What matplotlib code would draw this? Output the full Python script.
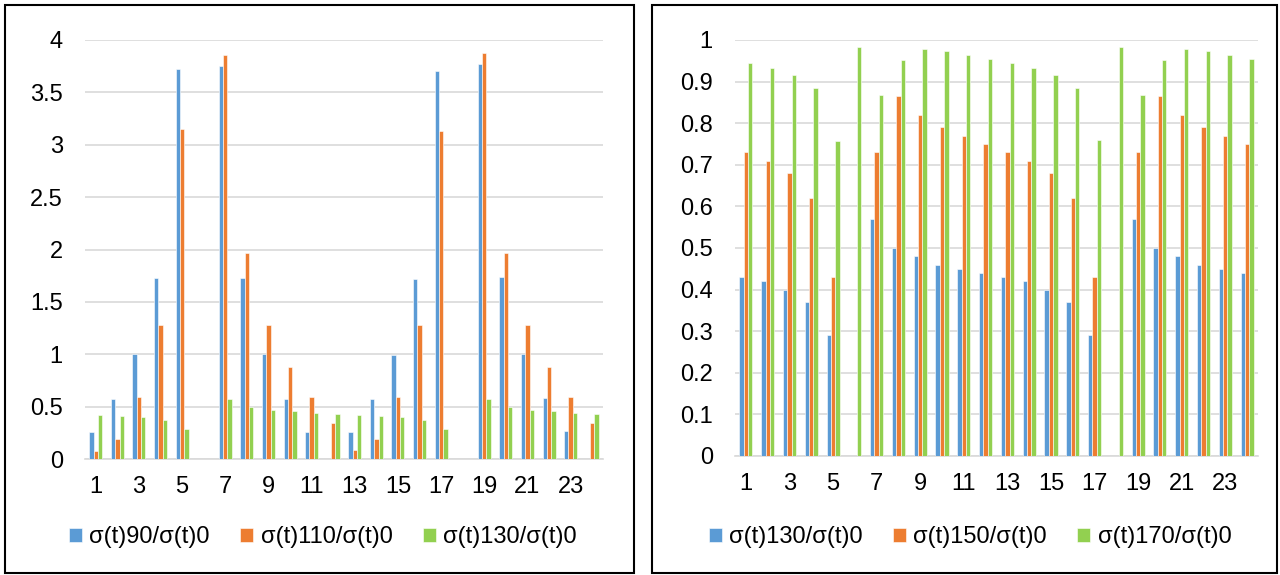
import numpy as np
import matplotlib
matplotlib.use('Agg')
import matplotlib.pyplot as plt
from matplotlib.patches import Rectangle

plt.rcParams['font.family'] = ['Liberation Sans', 'DejaVu Sans']

categories = list(range(1, 25))
tick_labels = [str(i) for i in range(1, 24, 2)]

# левая диаграмма
left_names = ['σ(t)90/σ(t)0', 'σ(t)110/σ(t)0', 'σ(t)130/σ(t)0']
left_90 = [0.26, 0.57, 1.00, 1.73, 3.72, 0, 3.75, 1.73, 1.00, 0.57, 0.26, 0,
           0.26, 0.57, 0.99, 1.72, 3.70, 0, 3.77, 1.74, 1.00, 0.58, 0.27, 0]
left_110 = [0.08, 0.19, 0.59, 1.28, 3.15, 0, 3.86, 1.97, 1.28, 0.88, 0.59, 0.34,
            0.09, 0.19, 0.59, 1.28, 3.13, 0, 3.88, 1.97, 1.28, 0.88, 0.59, 0.34]
left_130 = [0.42, 0.41, 0.40, 0.37, 0.29, 0, 0.57, 0.50, 0.47, 0.46, 0.44, 0.43,
            0.42, 0.41, 0.40, 0.37, 0.29, 0, 0.57, 0.50, 0.47, 0.46, 0.44, 0.43]

# правая диаграмма
right_names = ['σ(t)130/σ(t)0', 'σ(t)150/σ(t)0', 'σ(t)170/σ(t)0']
right_130 = [0.43, 0.42, 0.40, 0.37, 0.29, 0, 0.57, 0.50, 0.48, 0.46, 0.45, 0.44,
             0.43, 0.42, 0.40, 0.37, 0.29, 0, 0.57, 0.50, 0.48, 0.46, 0.45, 0.44]
right_150 = [0.73, 0.71, 0.68, 0.62, 0.43, 0, 0.73, 0.865, 0.82, 0.79, 0.77, 0.75,
             0.73, 0.71, 0.68, 0.62, 0.43, 0, 0.73, 0.865, 0.82, 0.79, 0.77, 0.75]
right_170 = [0.945, 0.933, 0.916, 0.885, 0.757, 0.984, 0.868, 0.952, 0.978, 0.974, 0.964, 0.954,
             0.944, 0.932, 0.916, 0.885, 0.759, 0.984, 0.867, 0.952, 0.978, 0.974, 0.964, 0.954]

colors = ['#5B9BD5', '#ED7D31', '#92D050']
W, H = 1280, 575

fig = plt.figure(figsize=(12.8, 5.75), dpi=100)


def draw_panel(rect, series, names, yticks, ylabels, legend_x):
    ax = fig.add_axes(rect)
    x = np.array(categories)
    w = 0.2
    for k, (vals, c, name) in enumerate(zip(series, colors, names)):
        ax.bar(x + (k - 1) * w, vals, w, color=c, edgecolor='white',
               linewidth=0.4, label=name, zorder=3)
    ax.set_xlim(0.5, 24.5)
    ax.set_ylim(yticks[0], yticks[-1])
    ax.set_yticks(yticks)
    ax.set_yticklabels(ylabels)
    ax.set_xticks(range(1, 24, 2))
    ax.set_xticklabels(tick_labels)
    ax.tick_params(axis='both', length=0, labelsize=17)
    ax.tick_params(axis='x', pad=12)
    ax.tick_params(axis='y', pad=16)
    ax.grid(axis='y', color='#D9D9D9', linewidth=1.2, zorder=0)
    for s in ['left', 'right', 'top']:
        ax.spines[s].set_visible(False)
    ax.spines['bottom'].set_color('#D9D9D9')
    ax.spines['bottom'].set_linewidth(1.2)
    handles, labels = ax.get_legend_handles_labels()
    fig.legend(handles, labels, loc='center', ncol=3, frameon=False,
               bbox_to_anchor=(legend_x, 1 - 537 / H), fontsize=17,
               handlelength=0.55, handleheight=0.55, handletextpad=0.3,
               columnspacing=1.3)
    return ax


draw_panel([85 / W, 1 - 459 / H, 518 / W, 419 / H],
           [left_90, left_110, left_130], left_names,
           np.arange(0, 4.01, 0.5),
           ['0', '0.5', '1', '1.5', '2', '2.5', '3', '3.5', '4'],
           323 / W)

draw_panel([735 / W, 1 - 456 / H, 523 / W, 416 / H],
           [right_130, right_150, right_170], right_names,
           np.round(np.arange(0, 1.01, 0.1), 1),
           ['0', '0.1', '0.2', '0.3', '0.4', '0.5', '0.6', '0.7', '0.8', '0.9', '1'],
           970 / W)

# рамки вокруг диаграмм
for x0, x1 in [(5, 634), (652, 1277)]:
    fig.patches.append(Rectangle((x0 / W, 1 - 573 / H), (x1 - x0) / W, 568 / H,
                                 transform=fig.transFigure, fill=False,
                                 edgecolor='black', linewidth=1.5))

fig.savefig('out.png', dpi=100)
